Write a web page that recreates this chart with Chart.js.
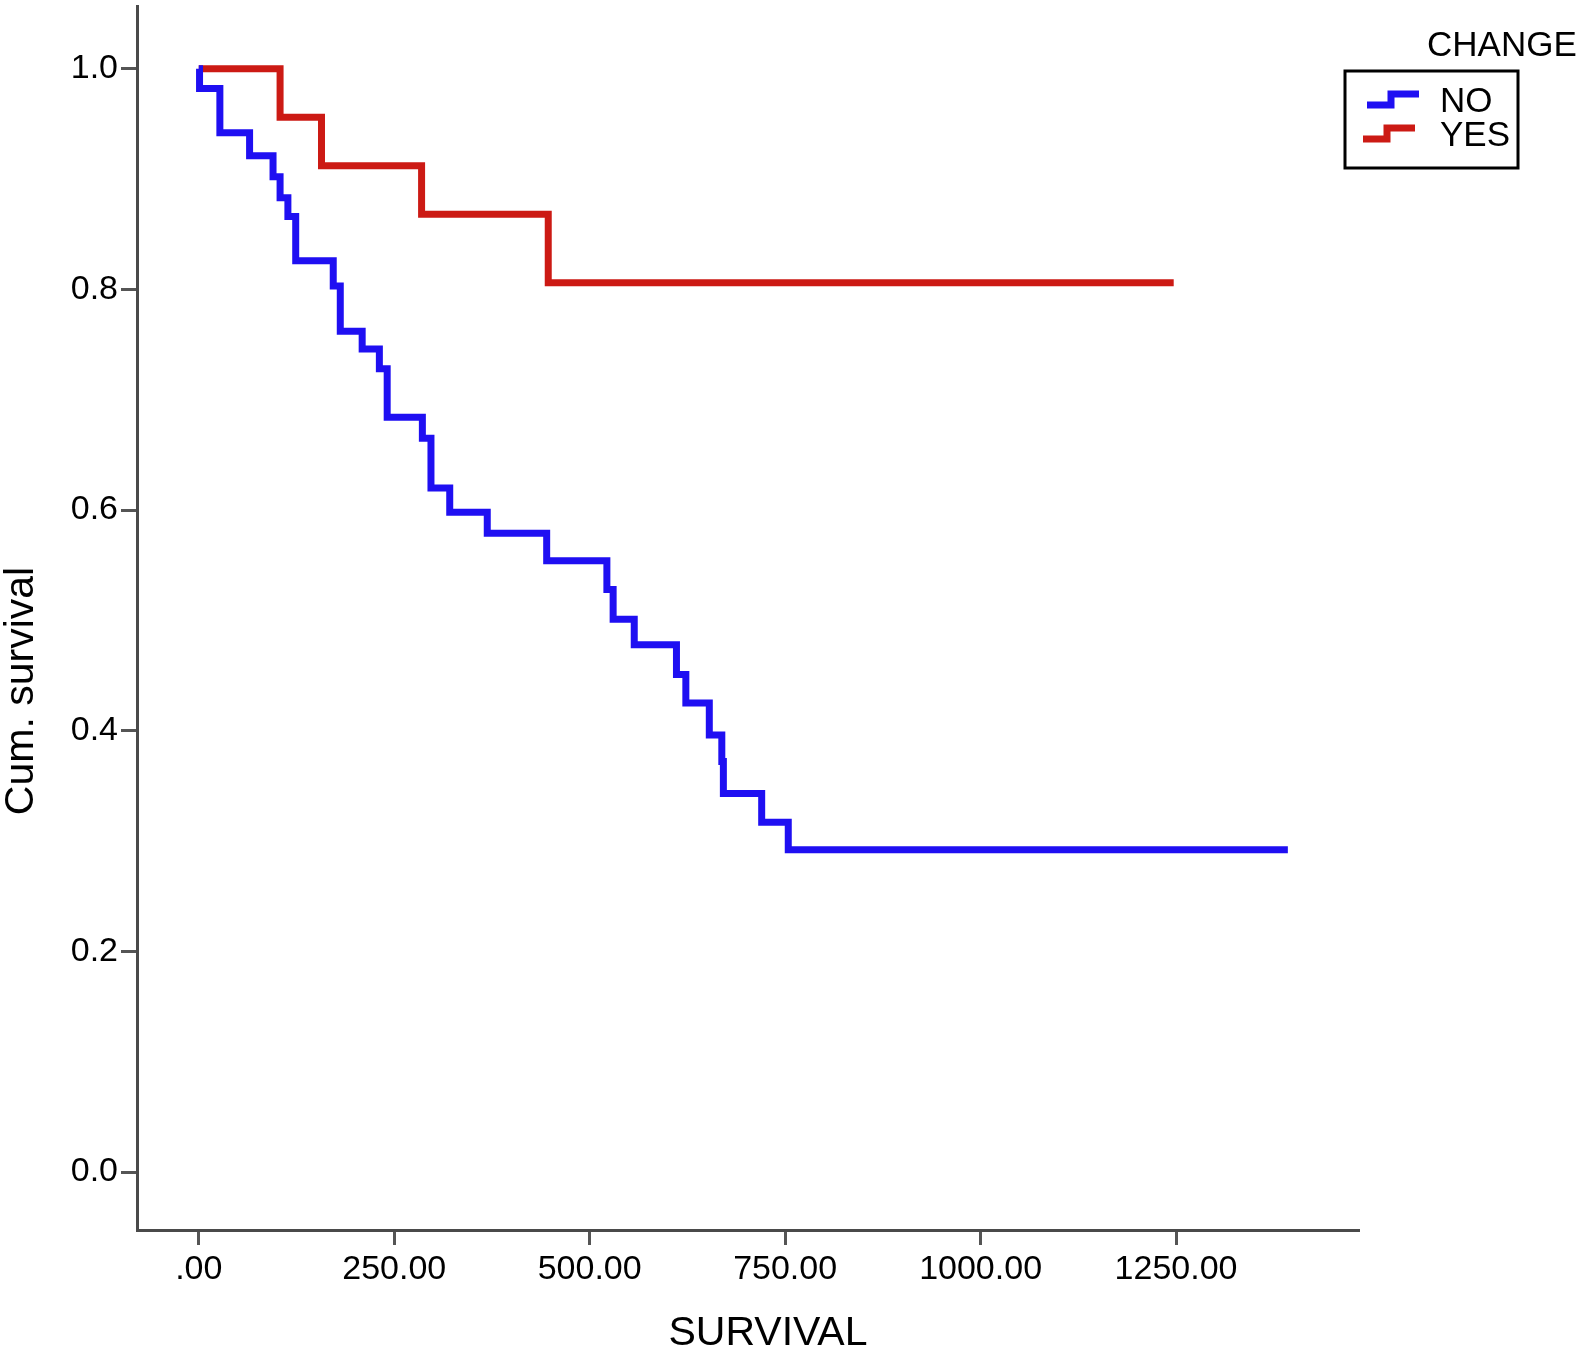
<!DOCTYPE html>
<html>
<head>
<meta charset="utf-8">
<script src="https://cdn.jsdelivr.net/npm/chart.js@4/dist/chart.umd.min.js"></script>
<style>
  html, body { margin: 0; padding: 0; background: #fff; }
  #wrap { width: 1576px; height: 1360px; position: relative; }
</style>
</head>
<body>
<div id="wrap"><canvas id="km"></canvas></div>
<script>
// Kaplan-Meier 數據
const noTimes = [0, 1, 27, 65, 95, 104, 114, 124, 172, 181, 209, 231, 241, 286, 297, 321, 369, 445, 522, 530, 557, 611, 623, 653, 669, 671, 720, 754, 1393];
const noSurv  = [1.0, 0.982, 0.942, 0.921, 0.902, 0.883, 0.866, 0.826, 0.803, 0.762, 0.746, 0.728, 0.684, 0.665, 0.620, 0.598, 0.579, 0.554, 0.528, 0.501, 0.478, 0.451, 0.425, 0.396, 0.372, 0.343, 0.317, 0.292, 0.292];
const yesTimes = [0, 104, 157, 285, 447, 1247];
const yesSurv  = [1.0, 0.956, 0.912, 0.868, 0.806, 0.806];

const xTicks = [0, 250, 500, 750, 1000, 1250];
const yTicks = [0, 0.2, 0.4, 0.6, 0.8, 1.0];
const groupLabels = ['NO', 'YES'];
const groupColors = ['#1f0ff2', '#cc1a14'];

const FONT = '"Liberation Sans", Arial, Helvetica, sans-serif';

function toPoints(times, surv) {
    return times.map((t, i) => ({ x: t, y: surv[i] }));
}

// 軸標題 + 圖例 (方框 + 階梯圖示)
const kmDecor = {
    id: 'kmDecor',
    afterDraw(chart) {
        const ctx = chart.ctx;
        ctx.save();
        ctx.fillStyle = '#000';
        ctx.textBaseline = 'middle';

        // 軸標題
        ctx.font = '41px ' + FONT;
        ctx.textAlign = 'center';
        ctx.fillText('SURVIVAL', 768, 1334);
        ctx.save();
        ctx.translate(22, 691);
        ctx.rotate(-Math.PI / 2);
        ctx.fillText('Cum. survival', 0, 0);
        ctx.restore();

        // 圖例
        ctx.font = '35px ' + FONT;
        ctx.textAlign = 'left';
        ctx.fillText('CHANGE', 1427, 46);

        ctx.strokeStyle = '#000';
        ctx.lineWidth = 3;
        ctx.strokeRect(1345, 71, 173, 97);

        const rows = [102, 136];
        groupLabels.forEach((label, i) => {
            const ds = chart.data.datasets.find(d => d.label === label);
            const y = rows[i];
            const x0 = 1367 - i * 4;
            ctx.strokeStyle = ds.borderColor;
            ctx.lineWidth = 7;
            ctx.lineJoin = 'miter';
            ctx.beginPath();
            ctx.moveTo(x0, y + 3);
            ctx.lineTo(x0 + 24, y + 3);
            ctx.lineTo(x0 + 24, y - 8);
            ctx.lineTo(x0 + 52, y - 8);
            ctx.stroke();
            ctx.fillStyle = '#000';
            ctx.fillText(label, 1440, y);
        });
        ctx.restore();
    }
};

const ctx = document.getElementById('km').getContext('2d');
new Chart(ctx, {
    type: 'line',
    data: {
        datasets: [
            {
                label: groupLabels[1],
                data: toPoints(yesTimes, yesSurv),
                borderColor: groupColors[1],
                borderWidth: 7,
                stepped: 'before',
                pointRadius: 0,
                fill: false,
                order: 2
            },
            {
                label: groupLabels[0],
                data: toPoints(noTimes, noSurv),
                borderColor: groupColors[0],
                borderWidth: 7,
                stepped: 'before',
                pointRadius: 0,
                fill: false,
                order: 1
            }
        ]
    },
    options: {
        responsive: true,
        maintainAspectRatio: false,
        animation: false,
        layout: { padding: { top: 5, right: 217, left: 0, bottom: 0 } },
        plugins: {
            legend: { display: false },
            tooltip: { enabled: false }
        },
        scales: {
            x: {
                type: 'linear',
                min: -79,
                max: 1484,
                afterBuildTicks: axis => { axis.ticks = xTicks.map(v => ({ value: v })); },
                afterFit: scale => { scale.height = 130; },
                border: { display: true, color: '#4a4a4a', width: 3 },
                grid: { display: true, drawOnChartArea: false, drawTicks: true, tickLength: 15, tickWidth: 3, tickColor: '#555' },
                ticks: {
                    color: '#000',
                    padding: 4,
                    maxRotation: 0,
                    font: { family: FONT, size: 34 },
                    callback: v => v === 0 ? '.00' : v.toFixed(2)
                },
                title: { display: false }
            },
            y: {
                min: -0.0525,
                max: 1.0564,
                afterBuildTicks: axis => { axis.ticks = yTicks.map(v => ({ value: v })); },
                afterFit: scale => { scale.width = 137; },
                border: { display: true, color: '#4a4a4a', width: 3 },
                grid: { display: true, drawOnChartArea: false, drawTicks: true, tickLength: 16, tickWidth: 3, tickColor: '#555' },
                ticks: {
                    color: '#000',
                    padding: 3,
                    font: { family: FONT, size: 34, lineHeight: 0.2 },
                    callback: v => v.toFixed(1)
                },
                title: { display: false }
            }
        }
    },
    plugins: [kmDecor]
});
</script>
</body>
</html>
